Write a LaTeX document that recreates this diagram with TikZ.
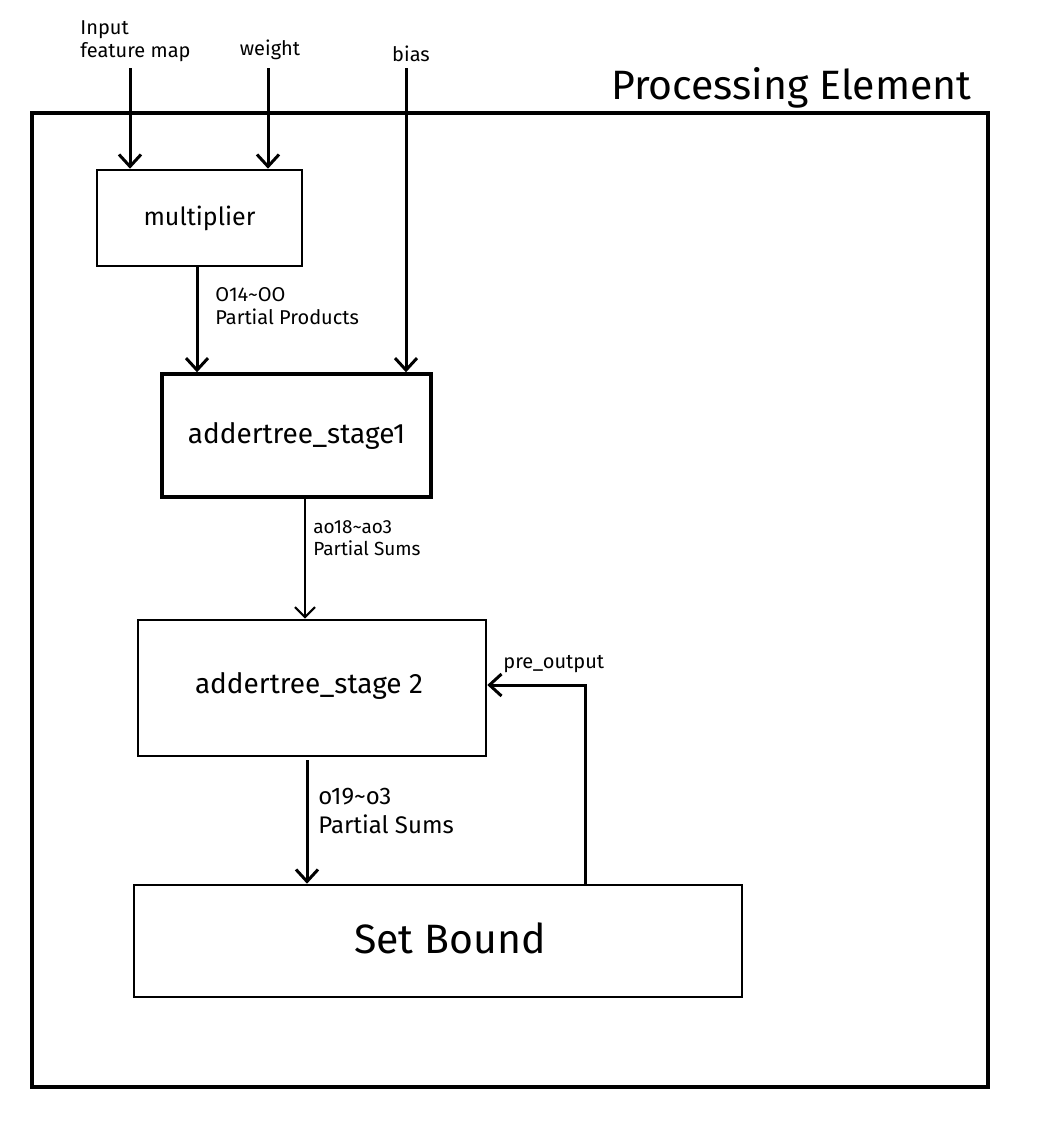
\documentclass[tikz,border=0pt]{standalone}
\usepackage{fontspec}
\setmainfont{Fira Sans}
\usetikzlibrary{arrows.meta}

\begin{document}
\begin{tikzpicture}[x=0.5pt,y=-0.5pt]

\tikzstyle{blk} = [draw, line width=1.3pt, shape=rectangle, inner sep=0pt]
\tikzstyle{arr} = [line width=1.5pt, -{Straight Barb[length=6pt,width=11pt,line width=1.5pt]}]
\tikzstyle{thinarr} = [line width=1.1pt, -{Straight Barb[length=5pt,width=10pt,line width=1.1pt]}]
\tikzstyle{lbl} = [inner sep=0pt, align=left, font=\fontsize{10}{11.5}\selectfont]

\useasboundingbox (0,0) rectangle (1040,1142);

% frame
\draw[line width=1.6pt] (32,113) rectangle (988,1087);
\node[anchor=south east, inner sep=0pt, font=\fontsize{20.5}{24}\selectfont] (pe) at (972,109) {Processing Element};

% blocks
\node[blk, minimum width=102.5pt, minimum height=48pt, font=\fontsize{12.5}{14}\selectfont] (mul) at (199.5,218) {multiplier};
\node[blk, line width=1.7pt, minimum width=134.5pt, minimum height=61.5pt, font=\fontsize{14}{16}\selectfont] (st1) at (296.5,435.5) {addertree\_stage1};
\node[blk, minimum width=174pt, minimum height=68pt] (st2) at (312,688) {};
\node[font=\fontsize{14}{16}\selectfont] (st2txt) at (309,686) {addertree\_stage 2};
\node[blk, minimum width=304pt, minimum height=56pt] (sb) at (438,941) {};
\node[font=\fontsize{20.5}{24}\selectfont] (sbtxt) at (450,938) {Set Bound};

% inputs
\coordinate (ifm) at (130,68);
\coordinate (wgt) at (268,68);
\coordinate (bia) at (406,68);
\node[lbl, anchor=south west] (ifmtxt) at (80,62) {Input\\feature map};
\node[lbl, anchor=south] (wgttxt) at (270,60) {weight};
\node[lbl, anchor=south] (biatxt) at (411,62) {bias};

\draw[arr] (ifm) -- (ifm |- mul.north);
\draw[arr] (wgt) -- (wgt |- mul.north);
\draw[arr] (bia) -- (bia |- st1.north);

% data path
\draw[arr] (mul.south -| 197,0) -- (st1.north -| 197,0);
\node[lbl, anchor=north west] (pp) at (215,287) {O14\textasciitilde OO\\Partial Products};

\draw[thinarr] (st1.south -| 305,0) -- (st2.north -| 305,0);
\node[lbl, anchor=north west, font=\fontsize{9.5}{11}\selectfont] (ps1) at (313,520) {ao18\textasciitilde ao3\\Partial Sums};

\draw[arr] (307,760) -- (sb.north -| 307,0);
\node[lbl, anchor=north west, font=\fontsize{12}{14.5}\selectfont] (ps2) at (318,788) {o19\textasciitilde o3\\Partial Sums};

% feedback
\coordinate (fb) at (585,685);
\draw[arr] (sb.north -| fb) -- (fb) -- (st2.east |- fb);
\node[lbl, anchor=south west] (pre) at (503,673) {pre\_output};

\end{tikzpicture}
\end{document}
